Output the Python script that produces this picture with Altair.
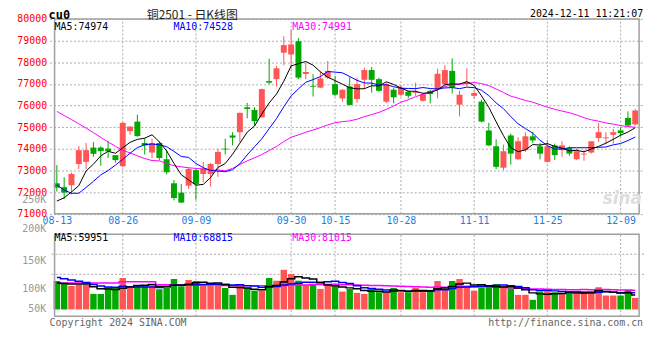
import altair as alt
import pandas as pd

# ---------------- data ----------------
tick_idx = [0, 9, 19, 32, 38, 47, 57, 67, 77]
tick_lbl = ["08-13", "08-26", "09-09", "09-30", "10-15", "10-28", "11-11", "11-25", "12-09"]

open_p = [72410, 72230, 72320, 73300, 73400, 74060, 74060, 74010, 73710, 73200,
          74820, 75260, 74270, 73830, 74270, 73520, 72410, 71980, 72300, 73020,
          72840, 72840, 73300, 74010, 74620, 74770, 75920, 75800, 75460, 77130,
          77220, 78440, 78360, 78970, 77460, 76910, 76830, 77290, 76990, 76330,
          76880, 76300, 77190, 77640, 77220, 76180, 76730, 76500, 76640, 76590,
          76220, 76680, 76730, 76990, 77600, 76040, 76990, 76450, 76180, 74850,
          74120, 73130, 74620, 73520, 73940, 74580, 74120, 73400, 74160, 73940,
          74040, 73520, 73740, 73830, 74500, 74490, 74650, 74850, 75430, 75130]
high_p = [73250, 72690, 72900, 74130, 74270, 74320, 74120, 74380, 73710, 75230,
          75040, 75580, 74500, 74470, 74350, 73940, 72560, 72370, 73140, 73070,
          73400, 73350, 74010, 74470, 74770, 75680, 76120, 75920, 76780, 78160,
          77830, 79200, 79500, 79120, 77980, 77450, 77600, 78060, 77370, 76750,
          77320, 77290, 77750, 77780, 77290, 77060, 76830, 76940, 76680, 77060,
          76580, 76730, 77700, 77860, 78180, 76680, 77720, 76680, 76270, 75200,
          74440, 74200, 74700, 74540, 74770, 74770, 74270, 74420, 74240, 74350,
          74120, 74010, 73940, 74350, 75190, 74770, 74930, 75000, 75730, 75840]
low_p = [72030, 71680, 71900, 73070, 73070, 73630, 73220, 73580, 73360, 73150,
         74650, 74560, 73740, 73560, 73480, 72820, 71620, 71500, 72150, 71650,
         72460, 72260, 72710, 73740, 74160, 74320, 75410, 75080, 75440, 76990,
         76880, 77860, 77680, 77220, 77220, 76420, 76800, 77220, 76420, 76180,
         76000, 76120, 76760, 76600, 76640, 76120, 76100, 76420, 76330, 76450,
         76180, 76100, 76330, 76910, 76560, 75500, 76880, 76330, 75230, 74140,
         73070, 73020, 73280, 73480, 73860, 74270, 73520, 73370, 73480, 73630,
         73680, 73480, 73450, 73780, 74320, 74200, 74240, 74580, 75030, 75080]
close_p = [72210, 71980, 72840, 73940, 73940, 73770, 73900, 73890, 73480, 75200,
           75030, 74590, 74160, 74270, 73580, 72920, 71730, 71520, 73070, 72380,
           73100, 73300, 73860, 73970, 74520, 75660, 75840, 75280, 76760, 77060,
           77720, 78790, 78820, 77290, 77550, 76870, 77250, 77600, 76500, 76730,
           76030, 76990, 77640, 77190, 76680, 76990, 76380, 76830, 76450, 76640,
           76530, 76530, 77470, 77640, 76830, 76500, 77090, 76580, 75260, 74160,
           73170, 73890, 73780, 74350, 74580, 74390, 73780, 74120, 73710, 74160,
           73780, 73890, 73780, 74350, 74770, 74530, 74770, 74730, 75080, 75770]
volume = [118200, 105900, 97600, 103000, 101800, 64700, 64500, 92300, 89400, 130600,
          89400, 97600, 97600, 105900, 84000, 89400, 126500, 96400, 122400, 118200,
          103000, 103000, 103000, 89400, 60600, 101800, 89400, 78300, 78300, 130600,
          119500, 164800, 147100, 119500, 101800, 101800, 85300, 101800, 101800, 74200,
          85300, 68800, 64700, 85300, 71700, 71700, 89400, 71700, 71700, 89400,
          71700, 81200, 118200, 85300, 118200, 126500, 98900, 78300, 92300, 94800,
          105900, 94800, 88200, 60600, 60600, 40000, 74200, 81200, 71700, 64700,
          71700, 74200, 74200, 74200, 92300, 57700, 57700, 57700, 81200, 48200]

# moving-average values at the left edge (they depend on days before the window)
ma5_head = [71590, 71740, 72010, 72300]
ma10_head = [72330, 72100, 71950, 71950, 72220, 72500, 72800, 73000, 73250]
ma30_head = [75734, 75537, 75354, 75157, 74956, 74746, 74530, 74316, 74118, 73935,
             73812, 73675, 73556, 73460, 73446, 73327, 73217, 73171, 73126, 73098,
             73066, 73020, 73020, 72988, 73098, 73280, 73446, 73583, 73739]
vma5_head = [110000, 108000, 106000, 106000]
vma10_head = [133000, 128000, 122000, 117000, 112000, 104000, 97000, 93000, 92000]
vma30_head = [110000] * 9 + [115000] * 5 + [103000] * 9 + [99000] * 6

vol_grid = [229500, 145800]
vol_lbl = ["250K", "200K", "150K", "100K", "50K"]
vol_lbl_at = [455000, 333000, 202000, 83000, 0]

# ---------------- layout constants ----------------
W, H = 600, 300
PRICE_H = 196.7
VOL_TOP = 217.2
VOL_ZERO = 293.2
VOL_PER_PX = 4120
MONO = "DejaVu Sans Mono"
RED, GREEN = "#ff5555", "#00a800"
GRID = "#aaaaaa"
BORDER = "#a0a0a0"


def mov(values, n, head):
    s = pd.Series(values, dtype=float).rolling(n).mean()
    s.iloc[: n - 1] = head
    return s


df = pd.DataFrame({
    "i": range(len(close_p)), "open": open_p, "high": high_p, "low": low_p,
    "close": close_p, "vol": volume,
})
df["ma5"] = mov(close_p, 5, ma5_head)
df["ma10"] = mov(close_p, 10, ma10_head)
df["ma30"] = mov(close_p, 30, ma30_head)
df["vma5"] = mov(volume, 5, vma5_head)
df["vma10"] = mov(volume, 10, vma10_head)
df["vma30"] = mov(volume, 30, vma30_head)

XMIN, XMAX = -0.31, len(close_p) - 1 + 0.53
xscale = alt.Scale(domain=[XMIN, XMAX], nice=False, zero=False)
lbl_expr = "[" + ",".join("'%s'" % t for t in tick_lbl) + "][indexof([" + \
    ",".join(str(v) for v in tick_idx) + "], datum.value)]"
xaxis = alt.Axis(values=tick_idx, labelExpr=lbl_expr, orient="bottom", offset=-(H - PRICE_H),
                 domain=False, ticks=False, grid=False, labelColor="#1a80e0", labelFont=MONO,
                 labelFontSize=10, labelPadding=2, labelFlush=False, labelOverlap=False, title=None)
X = alt.X("i:Q", scale=xscale, axis=xaxis)

pscale = alt.Scale(domain=[71000, 80000], range=[PRICE_H, 0], nice=False, zero=False)
paxis = alt.Axis(values=list(range(71000, 80001, 1000)), orient="left", domain=False, ticks=False,
                 labelColor="#ff0000", labelFont=MONO, labelFontSize=10, labelPadding=3,
                 grid=True, gridColor=GRID, gridDash=[2, 2], format="d", title=None)

vdom = [-(H - VOL_ZERO) * VOL_PER_PX, (VOL_ZERO - VOL_TOP) * VOL_PER_PX]
vscale = alt.Scale(domain=vdom, range=[H, VOL_TOP], nice=False, zero=False)

up = "datum.close >= datum.open"
color = alt.condition(up, alt.value(RED), alt.value(GREEN))

base = alt.Chart(df)
ticks_df = pd.DataFrame({"i": tick_idx[1:]})
frame = pd.DataFrame({"x0": [XMIN], "x1": [XMAX]})

# ---------------- price panel ----------------
p_vgrid = alt.Chart(ticks_df).mark_rule(color=GRID, strokeDash=[2, 2], strokeWidth=1).encode(
    x=X, y=alt.Y(datum=71000, scale=pscale, axis=paxis), y2=alt.Y2(datum=80000))
wicks = base.mark_rule(strokeWidth=1).encode(
    x=X, y=alt.Y("low:Q", scale=pscale, axis=paxis), y2="high:Q", color=color)
bodies = base.mark_bar(size=6).encode(
    x=X, y=alt.Y("open:Q", scale=pscale, axis=paxis), y2="close:Q", color=color)
ma_lines = [
    base.mark_line(color=c, strokeWidth=1).encode(x=X, y=alt.Y(f + ":Q", scale=pscale, axis=paxis))
    for f, c in [("ma30", "#ff00ff"), ("ma10", "#0000ff"), ("ma5", "#000000")]
]
p_frame = alt.Chart(frame).mark_rect(fill=None, stroke=BORDER, strokeWidth=1.5).encode(
    x=alt.X("x0:Q", scale=xscale, axis=xaxis), x2="x1:Q",
    y=alt.Y(datum=71000, scale=pscale, axis=paxis), y2=alt.Y2(datum=80000))
price = alt.layer(p_vgrid, wicks, bodies, *ma_lines, p_frame)

# ---------------- volume panel ----------------
VY = lambda f: alt.Y(f, scale=vscale, axis=None)
v_vgrid = alt.Chart(ticks_df).mark_rule(color=GRID, strokeDash=[2, 2], strokeWidth=1).encode(
    x=X, y=alt.Y(datum=vdom[0], scale=vscale, axis=None), y2=alt.Y2(datum=vdom[1]))
v_hgrid = alt.Chart(pd.DataFrame({"v": vol_grid})).mark_rule(
    color=GRID, strokeDash=[2, 2], strokeWidth=1).encode(y=VY("v:Q"))
v_bars = base.mark_bar(size=6.5).encode(x=X, y=VY("vol:Q"), y2=alt.Y2(datum=0), color=color)
v_lines = [
    base.mark_line(color=c, strokeWidth=1.5, interpolate="step").encode(x=X, y=VY(f + ":Q"))
    for f, c in [("vma30", "#ff00ff"), ("vma10", "#0000ff"), ("vma5", "#000000")]
]
v_frame = alt.Chart(frame).mark_rect(fill=None, stroke=BORDER, strokeWidth=1.5).encode(
    x=alt.X("x0:Q", scale=xscale, axis=xaxis), x2="x1:Q",
    y=alt.Y(datum=vdom[0], scale=vscale, axis=None), y2=alt.Y2(datum=vdom[1]))
v_labels = alt.Chart(pd.DataFrame({"t": vol_lbl, "v": vol_lbl_at})).mark_text(
    align="right", baseline="middle", font=MONO, fontSize=10, color="#999999").encode(
    x=alt.value(-3.5), y=VY("v:Q"), text="t:N")
volume_panel = alt.layer(v_vgrid, v_hgrid, v_bars, *v_lines, v_frame, v_labels)

# ---------------- text annotations ----------------
ONE = pd.DataFrame({"k": [0]})


def label(txt, x, y, color="#000000", size=10, align="left", font=MONO, weight="normal", **kw):
    return alt.Chart(ONE).mark_text(
        text=txt, align=align, baseline="middle", font=font, fontSize=size,
        color=color, fontWeight=weight, **kw).encode(x=alt.value(x), y=alt.value(y))


texts = [
    label("cu0", -1, -4, size=12, weight="bold"),
    label("铜2501 - 日K线图", 144, -3.5, size=12, align="center", font="Noto Sans CJK SC",
          color="#222222"),
    label("2024-12-11 11:21:07", 599, -4.5, align="right"),
    label("MA5:74974", 5, 8),
    label("MA10:74528", 125, 8, color="#0000ff"),
    label("MA30:74991", 245, 8, color="#ff00ff"),
    label("MA5:59951", 5, 221, color="#000000"),
    label("MA10:68815", 125, 221, color="#0000ff"),
    label("MA30:81015", 245, 221, color="#ff00ff"),
    label("Copyright 2024 SINA.COM", 0, 306.5, color="#666666"),
    label("http://finance.sina.com.cn", 599, 306.5, color="#666666", align="right"),
    label("sina", 578, 182, color="#dddddd", size=17, align="center", font="DejaVu Sans",
          weight="bold", fontStyle="italic"),
]

chart = alt.layer(price, volume_panel, *texts).resolve_scale(y="independent").properties(
    width=W, height=H,
    autosize=alt.AutoSizeParams(type="none"),
    padding={"left": 42, "top": 9.5, "right": 8, "bottom": 22},
    background="#ffffff",
).configure_view(stroke=None)

chart.save("out.html", embed_options={"renderer": "svg", "actions": False})
